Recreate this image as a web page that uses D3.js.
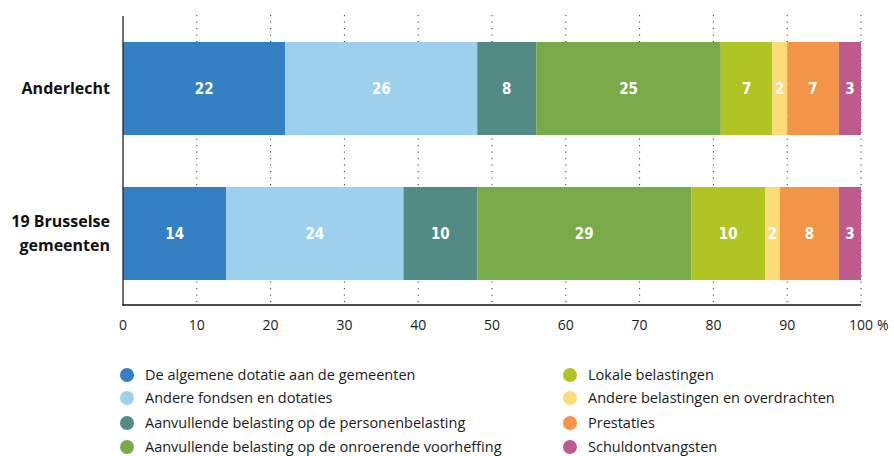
<!DOCTYPE html>
<html>
<head>
<meta charset="utf-8">
<script src="https://cdn.jsdelivr.net/npm/d3@7/dist/d3.min.js"></script>
<style>
  html, body { margin: 0; padding: 0; background: #fff; }
  svg { display: block; }
  .tick-lbl { font-family: "Open Sans", "Noto Sans", sans-serif; font-size: 14px; fill: #1a1a1a; }
  .row-lbl { font-family: "Open Sans", "Noto Sans", sans-serif; font-size: 16px; font-weight: 700; fill: #111; }
  .val-lbl { font-family: "Liberation Sans Narrow", "DejaVu Sans Condensed", "Open Sans", sans-serif; font-size: 15px; font-weight: 700; fill: #fff; }
  .leg-lbl { font-family: "Open Sans", "Noto Sans", sans-serif; font-size: 14.5px; fill: #1a1a1a; }
</style>
</head>
<body>
<svg id="chart" width="894" height="456"></svg>
<script>
// Origin of municipal revenue, in percent of the total
const rows = ["Anderlecht", "19 Brusselse gemeenten"];
const rowLines = [["Anderlecht"], ["19 Brusselse", "gemeenten"]];
const categories = [
  "De algemene dotatie aan de gemeenten",
  "Andere fondsen en dotaties",
  "Aanvullende belasting op de personenbelasting",
  "Aanvullende belasting op de onroerende voorheffing",
  "Lokale belastingen",
  "Andere belastingen en overdrachten",
  "Prestaties",
  "Schuldontvangsten"
];
const anderlecht = [22, 26, 8, 25, 7, 2, 7, 3];
const brussel19 = [14, 24, 10, 29, 10, 2, 8, 3];
const colors = ["#3380c3", "#9bd1ec", "#528b83", "#79aa4a", "#b0c424", "#fddc77", "#f39548", "#bf5b8c"];
const ticks = [0, 10, 20, 30, 40, 50, 60, 70, 80, 90, 100];

const svg = d3.select("#chart");
const x = d3.scaleLinear().domain([0, 100]).range([123, 861]);
const y = d3.scaleBand().domain(rows).range([15, 307]).paddingInner(0.3586).paddingOuter(0.186);
const color = d3.scaleOrdinal().domain(categories).range(colors);

// dotted vertical gridlines
svg.append("g").selectAll("line").data(ticks.slice(1)).join("line")
  .attr("x1", d => x(d)).attr("x2", d => x(d))
  .attr("y1", 15).attr("y2", 305)
  .attr("stroke", "#333").attr("stroke-width", 1)
  .attr("stroke-dasharray", "1.2,5.3");

// stacked bars
const table = rows.map((r, i) => {
  const vals = i === 0 ? anderlecht : brussel19;
  const o = { row: r };
  categories.forEach((c, j) => o[c] = vals[j]);
  return o;
});
const stacked = d3.stack().keys(categories)(table);

const layers = svg.append("g").selectAll("g").data(stacked).join("g")
  .attr("fill", d => color(d.key));
layers.selectAll("rect").data(d => d).join("rect")
  .attr("x", d => x(d[0]))
  .attr("width", d => x(d[1]) - x(d[0]))
  .attr("y", d => y(d.data.row))
  .attr("height", y.bandwidth());

// value labels inside segments
const labels = svg.append("g");
stacked.forEach(layer => {
  layer.forEach(d => {
    labels.append("text").attr("class", "val-lbl")
      .attr("x", (x(d[0]) + x(d[1])) / 2)
      .attr("y", y(d.data.row) + y.bandwidth() / 2)
      .attr("dy", "0.36em")
      .attr("text-anchor", "middle")
      .text(d3.format("d")(d[1] - d[0]));
  });
});

// axes lines
svg.append("line").attr("x1", x(0)).attr("x2", x(0)).attr("y1", 16).attr("y2", 305.5)
  .attr("stroke", "#222").attr("stroke-width", 1.3);
svg.append("line").attr("x1", x(0) - 0.6).attr("x2", x(100)).attr("y1", 305).attr("y2", 305)
  .attr("stroke", "#111").attr("stroke-width", 1.5);

// x tick labels
svg.append("g").selectAll("text").data(ticks).join("text")
  .attr("class", "tick-lbl")
  .attr("x", d => x(d)).attr("y", 330)
  .attr("text-anchor", "middle")
  .text(d => d);
svg.append("text").attr("class", "tick-lbl").attr("x", x(100) + 16).attr("y", 330).text("%");

// row labels
rows.forEach((r, i) => {
  const lines = rowLines[i];
  const cy = y(r) + y.bandwidth() / 2;
  const t = svg.append("text").attr("class", "row-lbl").attr("text-anchor", "end");
  lines.forEach((ln, k) => {
    t.append("tspan").attr("x", 110)
      .attr("y", cy + (k - (lines.length - 1) / 2) * 24)
      .attr("dy", "0.36em").text(ln);
  });
});

// legend in two columns
const legCols = [127, 570];
const legRows = [375, 398, 423, 447];
const leg = svg.append("g").selectAll("g").data(categories).join("g")
  .attr("transform", (d, i) => `translate(${legCols[Math.floor(i / 4)]},${legRows[i % 4]})`);
leg.append("circle").attr("r", 7).attr("fill", d => color(d));
leg.append("text").attr("class", "leg-lbl").attr("x", 18).attr("dy", "0.36em").text(d => d);
</script>
</body>
</html>
